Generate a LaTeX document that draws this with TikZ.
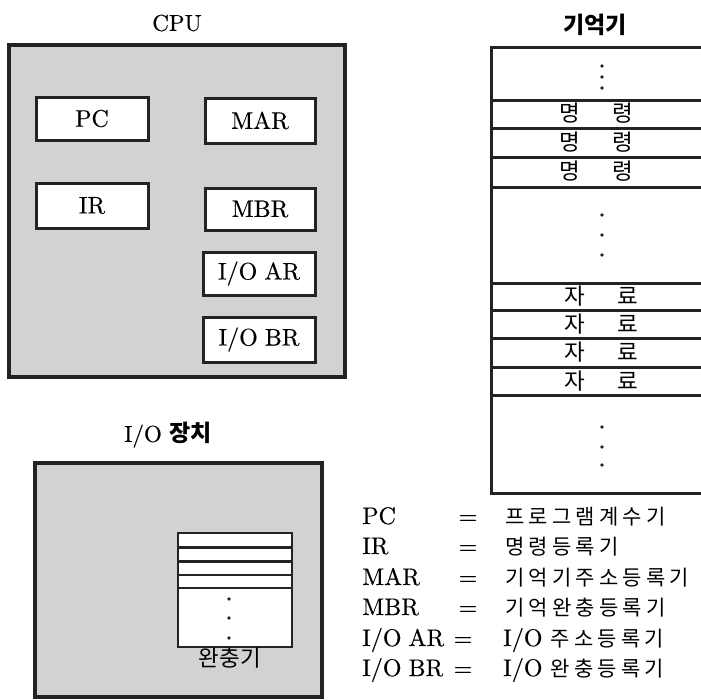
\documentclass[tikz,border=0pt]{standalone}
\usepackage{fontspec}
\setmainfont{lmroman10-regular.otf}[FakeBold=0.4]
\newfontfamily\kr{Noto Sans CJK KR}
\newfontfamily\krs{Noto Sans CJK KR}[LetterSpace=20]
\definecolor{panel}{RGB}{211,209,211}
\definecolor{edge}{RGB}{35,35,35}
\tikzset{
  panelbox/.style={draw=edge, line width=3.5pt, fill=panel},
  regbox/.style={draw=edge, line width=3pt, fill=white, inner sep=0pt,
    font=\fontsize{24}{28}\selectfont},
  memline/.style={draw=edge, line width=3pt},
  thinline/.style={draw=edge, line width=2.6pt},
  lat/.style={font=\fontsize{24}{28}\selectfont, inner sep=0pt, anchor=base west},
  eqs/.style={font=\fontsize{24}{28}\selectfont, inner sep=0pt, anchor=base},
  krt/.style={font=\fontsize{21}{24}\selectfont\krs, inner sep=0pt, anchor=base west},
  memtxt/.style={font=\fontsize{22.5}{24}\selectfont\kr, inner sep=0pt},
  title/.style={font=\fontsize{23}{26}\selectfont, inner sep=0pt},
  dot/.style={circle, fill=edge, inner sep=0pt, minimum size=3.6pt},
}
\begin{document}
\begin{tikzpicture}[x=1pt, y=-1pt]
\useasboundingbox (0,0) rectangle (701,699);
\fill[white] (0,0) rectangle (701,699);

% ---------------- CPU ----------------
\node[title] (cputitle) at (177,23) {CPU};
\draw[panelbox] (9,45) rectangle (345,377);
\node[regbox, minimum width=112pt, minimum height=43pt] (pc)  at (92,118.5) {PC};
\node[regbox, minimum width=110pt, minimum height=45pt] (mar) at (260,120.5) {MAR};
\node[regbox, minimum width=112pt, minimum height=45pt] (ir)  at (92,205.5) {IR};
\node[regbox, minimum width=110pt, minimum height=42pt] (mbr) at (260,209) {MBR};
\node[regbox, minimum width=112pt, minimum height=43pt] (ioar) at (259,273.5) {I/O\hspace{7pt}AR};
\node[regbox, minimum width=112pt, minimum height=45pt] (iobr) at (259,339.5) {I/O\hspace{7pt}BR};

% ---------------- Memory ----------------
\node[title, font=\fontsize{23}{26}\selectfont\kr\bfseries] (memtitle) at (595,25) {기억기};
\fill[white] (491,47) rectangle (703,493);
\foreach \yy in {47,100,128,157,187,283,310,338,367,395,493}
  \draw[memline] (489.5,\yy) -- (703,\yy);
\draw[memline] (491,45.5) -- (491,494.5);
\foreach \yy [count=\i] in {113,142,171}
  \node[memtxt] (cmd\i) at (596.5,\yy) {명\hspace{32pt}령};
\foreach \yy [count=\i] in {296,324,352,381}
  \node[memtxt] (dat\i) at (601.5,\yy) {자\hspace{32pt}료};
\foreach \yy [count=\i] in {66,77,88,215,235,255,427,447,465}
  \node[dot] (md\i) at (602,\yy) {};

% ---------------- I/O device ----------------
\node[title] (iotitle) at (168,435) {I/O \kr\bfseries 장치};
\draw[panelbox] (35,463) rectangle (322,697);
\draw[thinline, fill=white] (178,533) rectangle (292,647);
\draw[memline] (178,547) -- (292,547);
\draw[memline] (178,561) -- (292,561);
\draw[thinline] (178,575) -- (292,575);
\draw[thinline] (178,588) -- (292,588);
\foreach \yy [count=\i] in {599,618,638}
  \node[dot] (bd\i) at (229,\yy) {};
\node[memtxt] (buf) at (230,658) {완충기};

% ---------------- Legend ----------------
\node[lat] (l1) at (362,524) {PC};
\node[eqs] (e1) at (468,524) {=};
\node[krt] (k1) at (505,524) {프로그램계수기};
\node[lat] (l2) at (362,554) {IR};
\node[eqs] (e2) at (468,554) {=};
\node[krt] (k2) at (505,554) {명령등록기};
\node[lat] (l3) at (362,585) {MAR};
\node[eqs] (e3) at (468,585) {=};
\node[krt] (k3) at (505,585) {기억기주소등록기};
\node[lat] (l4) at (362,615) {MBR};
\node[eqs] (e4) at (468,615) {=};
\node[krt] (k4) at (505,615) {기억완충등록기};
\node[lat] (l5) at (362,646) {I/O\hspace{7pt}AR};
\node[eqs] (e5) at (463,646) {=};
\node[lat] (k5) at (503,646) {I/O\hspace{8pt}{\krs\fontsize{21}{24}\selectfont 주소등록기}};
\node[lat] (l6) at (362,676) {I/O\hspace{7pt}BR};
\node[eqs] (e6) at (463,676) {=};
\node[lat] (k6) at (503,676) {I/O\hspace{8pt}{\krs\fontsize{21}{24}\selectfont 완충등록기}};
\end{tikzpicture}
\end{document}
